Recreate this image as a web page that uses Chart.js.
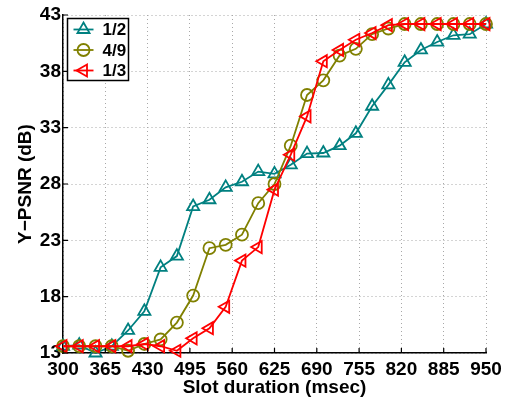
<!DOCTYPE html>
<html>
<head>
<meta charset="utf-8">
<script src="https://cdn.jsdelivr.net/npm/chart.js@4/dist/chart.umd.min.js"></script>
<style>
  html, body { margin: 0; padding: 0; background: #fff; }
  #wrap { width: 509px; height: 402px; }
</style>
</head>
<body>
<div id="wrap"><canvas id="psnrChart" width="509" height="402"></canvas></div>
<script>
// slot durations (msec) where each series was sampled
const slotDurations = [300, 325, 350, 375, 400, 425, 450, 475, 500, 525, 550, 575, 600, 625,
  650, 675, 700, 725, 750, 775, 800, 825, 850, 875, 900, 925, 950];

// Y-PSNR (dB) per code rate
const psnrHalf = [13.6, 13.7, 13.0, 13.6, 15.0, 16.7, 20.6, 21.6, 26.0, 26.6, 27.7, 28.2, 29.1, 28.9,
  29.7, 30.7, 30.75, 31.4, 32.5, 34.9, 36.8, 38.8, 39.9, 40.6, 41.2, 41.3, 42.2];
const psnrFourNinths = [13.6, 13.6, 13.6, 13.6, 13.2, 13.8, 14.2, 15.7, 18.1, 22.3, 22.6, 23.5, 26.3, 28.0,
  31.4, 35.9, 37.2, 39.4, 40.0, 41.3, 41.8, 42.2, 42.2, 42.2, 42.2, 42.2, 42.2];
const psnrThird = [13.6, 13.6, 13.6, 13.6, 13.6, 13.8, 13.6, 13.2, 14.3, 15.2, 17.1, 21.2, 22.4, 27.5,
  30.6, 34.0, 38.9, 39.9, 40.8, 41.4, 42.1, 42.2, 42.2, 42.2, 42.2, 42.2, 42.2];

const xTicks = [300, 365, 430, 495, 560, 625, 690, 755, 820, 885, 950];
const yTicks = [13, 18, 23, 28, 33, 38, 43];

const FONT = "'Liberation Sans', Arial, Helvetica, sans-serif";

function toPoints(ys) {
  return slotDurations.map((x, i) => ({ x, y: ys[i] }));
}

function series(label, ys, color, style, rotation, radius, order) {
  return {
    label,
    data: toPoints(ys),
    borderColor: color,
    backgroundColor: color,
    borderWidth: 1.8,
    pointStyle: style,
    pointRotation: rotation,
    pointRadius: radius,
    pointBorderWidth: 1.8,
    pointBorderColor: color,
    pointBackgroundColor: 'rgba(0,0,0,0)',
    tension: 0,
    clip: false,
    order
  };
}

// inward tick marks like the original axes
const innerTicks = {
  id: 'innerTicks',
  afterDatasetsDraw(chart) {
    const { ctx, chartArea, scales } = chart;
    ctx.save();
    ctx.strokeStyle = '#000';
    ctx.lineWidth = 1.2;
    ctx.beginPath();
    xTicks.forEach(v => {
      const px = scales.x.getPixelForValue(v);
      ctx.moveTo(px, chartArea.bottom);
      ctx.lineTo(px, chartArea.bottom - 5);
    });
    yTicks.forEach(v => {
      const py = scales.y.getPixelForValue(v);
      ctx.moveTo(chartArea.left, py);
      ctx.lineTo(chartArea.left + 5, py);
    });
    ctx.stroke();
    ctx.restore();
  }
};

// boxed legend in the upper-left corner of the plot
const boxLegend = {
  id: 'boxLegend',
  afterDraw(chart) {
    const { ctx, chartArea } = chart;
    const left = chartArea.left + 4.5, top = chartArea.top + 3.5;
    const w = 61, h = 62;
    ctx.save();
    ctx.fillStyle = '#fff';
    ctx.fillRect(left, top, w, h);
    ctx.strokeStyle = '#000';
    ctx.lineWidth = 1.5;
    ctx.strokeRect(left, top, w, h);
    chart.data.datasets.forEach((ds, i) => {
      const y = top + 11 + i * 20.5;
      ctx.strokeStyle = ds.borderColor;
      ctx.lineWidth = 1.8;
      ctx.beginPath();
      ctx.moveTo(left + 6, y);
      ctx.lineTo(left + 26, y);
      ctx.stroke();
      ctx.fillStyle = 'rgba(0,0,0,0)';
      Chart.helpers.drawPoint(ctx, {
        pointStyle: ds.pointStyle,
        rotation: ds.pointRotation,
        radius: ds.pointRadius,
        borderWidth: ds.pointBorderWidth
      }, left + 16, y);
      ctx.fillStyle = '#000';
      ctx.font = `bold 17px ${FONT}`;
      ctx.textBaseline = 'middle';
      ctx.textAlign = 'left';
      ctx.fillText(ds.label, left + 35, y + 1);
    });
    ctx.restore();
  }
};

new Chart(document.getElementById('psnrChart'), {
  type: 'line',
  data: {
    datasets: [
      series('1/2', psnrHalf, '#008080', 'triangle', 0, 7, 3),
      series('4/9', psnrFourNinths, '#808000', 'circle', 0, 6, 2),
      series('1/3', psnrThird, '#ff0000', 'triangle', -90, 7, 1)
    ]
  },
  options: {
    responsive: false,
    animation: false,
    layout: { padding: { left: 0, right: 23, top: 15, bottom: 0 } },
    plugins: { legend: { display: false }, tooltip: { enabled: false } },
    scales: {
      x: {
        type: 'linear',
        min: 300,
        max: 950,
        afterBuildTicks: s => { s.ticks = xTicks.map(v => ({ value: v })); },
        afterFit: s => { s.height = 49; },
        grid: { color: '#a8a8a8', lineWidth: 1, drawTicks: false },
        border: { display: true, color: '#000', width: 1.5, dash: [1, 3] },
        ticks: {
          color: '#000',
          padding: 5,
          maxRotation: 0,
          autoSkip: false,
          font: { family: FONT, size: 19, weight: 'bold' }
        },
        title: {
          display: true,
          text: 'Slot duration (msec)',
          color: '#000',
          padding: { top: 0, bottom: 3 },
          font: { family: FONT, size: 19, weight: 'bold' }
        }
      },
      y: {
        type: 'linear',
        min: 13,
        max: 43,
        afterBuildTicks: s => { s.ticks = yTicks.map(v => ({ value: v })); },
        afterFit: s => { s.width = 63; },
        grid: { color: '#a8a8a8', lineWidth: 1, drawTicks: false },
        border: { display: true, color: '#000', width: 1.5, dash: [1, 3] },
        ticks: {
          color: '#000',
          padding: 2,
          autoSkip: false,
          font: { family: FONT, size: 19, weight: 'bold' }
        },
        title: {
          display: true,
          text: 'Y\u2212PSNR (dB)',
          color: '#000',
          padding: { top: 14, bottom: 0 },
          font: { family: FONT, size: 19, weight: 'bold' }
        }
      }
    }
  },
  plugins: [innerTicks, boxLegend]
});
</script>
</body>
</html>
